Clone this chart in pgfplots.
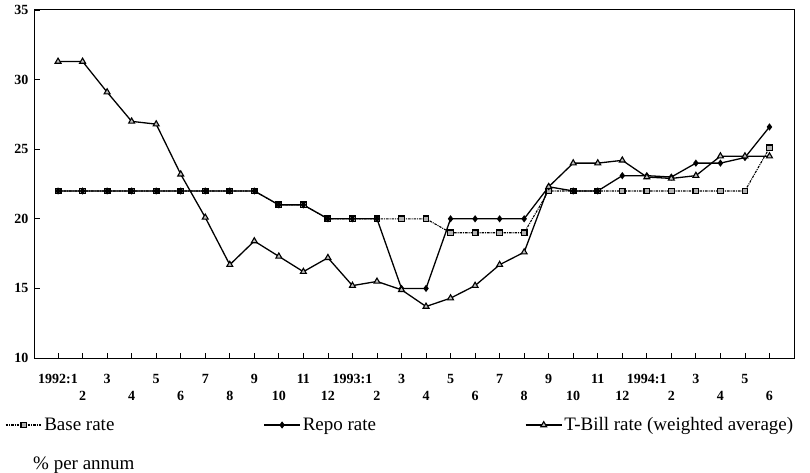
\documentclass[border=0pt]{standalone}
\usepackage{pgfplots}
\pgfplotsset{compat=1.18}
\usepackage{fontspec}
\setmainfont{Liberation Serif}
\begin{document}
\begin{tikzpicture}[x=1pt,y=1pt]
\begin{axis}[
 at={(0pt,0pt)}, anchor=south west,
 scale only axis, width=759pt, height=348pt,
 xmin=-0.94, xmax=30, ymin=10, ymax=35,
 ytick={10,15,...,35},
 xtick={0,2,...,28},
 xticklabels={1992:1,3,5,7,9,11,1993:1,3,5,7,9,11,1994:1,3,5},
 extra x ticks={1,3,...,29},
 extra x tick labels={2,4,6,8,10,12,2,4,6,8,10,12,2,4,6},
 xticklabel style={yshift=-13pt},
 extra x tick style={tick label style={yshift=-17pt,font=\fontsize{14}{14}\selectfont\bfseries}},
 yticklabel style={xshift=-3pt},
 xtick pos=left, ytick pos=left,
 tick align=inside, major tick length=5pt,
 tick style={black, line width=0.8pt},
 axis line style={line width=1pt},
 tick label style={font=\fontsize{14}{14}\selectfont\bfseries},
 /pgf/number format/assume math mode=true,
 legend columns=3,
 legend style={draw=none, fill=none, at={(0,0)}, anchor=west, xshift=-30pt, yshift=-67pt,
   font=\fontsize{19}{19}\selectfont, inner sep=0pt,
   /tikz/every even column/.append style={column sep=147pt}},
 legend image code/.code={\draw[mark repeat=2,mark phase=2,#1] plot coordinates {(0pt,0pt) (18pt,0pt) (36pt,0pt)};},
]
\addplot[black, line width=1.1pt, dash pattern=on 2.5pt off 1pt on 1pt off 1pt,
  mark=square*, mark size=2.8pt, mark options={solid, line width=1.3pt, fill=black!30}]
 coordinates {(0,22)(1,22)(2,22)(3,22)(4,22)(5,22)(6,22)(7,22)(8,22)(9,21)(10,21)
 (11,20)(12,20)(13,20)(14,20)(15,20)(16,19)(17,19)(18,19)(19,19)(20,22)(21,22)(22,22)
 (23,22)(24,22)(25,22)(26,22)(27,22)(28,22)(29,25.1)};
\addlegendentry{Base rate}
\addplot[black, line width=1.3pt, mark=diamond*, mark size=2.6pt, mark options={solid}]
 coordinates {(0,22)(1,22)(2,22)(3,22)(4,22)(5,22)(6,22)(7,22)(8,22)(9,21)(10,21)
 (11,20)(12,20)(13,20)(14,15.0)(15,15.0)(16,20)(17,20)(18,20)(19,20)(20,22.3)(21,22)(22,22)
 (23,23.1)(24,23.1)(25,23.0)(26,24.0)(27,24.0)(28,24.4)(29,26.6)};
\addlegendentry{Repo rate}
\addplot[black, line width=1.3pt, mark=triangle*, mark size=3.4pt, mark options={solid, fill=black!25, line width=1.1pt}]
 coordinates {(0,31.3)(1,31.3)(2,29.1)(3,27.0)(4,26.8)(5,23.2)(6,20.1)(7,16.7)(8,18.4)(9,17.3)
 (10,16.2)(11,17.2)(12,15.2)(13,15.5)(14,14.9)(15,13.7)(16,14.3)(17,15.2)(18,16.7)(19,17.6)
 (20,22.3)(21,24.0)(22,24.0)(23,24.2)(24,23.0)(25,22.9)(26,23.1)(27,24.5)(28,24.5)(29,24.5)};
\addlegendentry{T-Bill rate (weighted average)}
\end{axis}
\node[anchor=base west, font=\fontsize{19}{19}\selectfont, inner sep=0pt] at (-2pt,-111pt) {\% per annum};
\pgfresetboundingbox
\path[use as bounding box] (-35pt,-114pt) rectangle (775pt,358pt);
\end{tikzpicture}
\end{document}
